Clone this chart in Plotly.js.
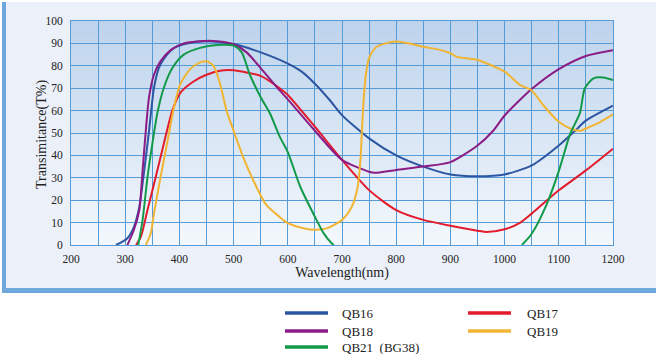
<!DOCTYPE html>
<html>
<head>
<meta charset="utf-8">
<script src="https://cdn.plot.ly/plotly-3.0.1.min.js"></script>
<style>
  html, body { margin: 0; padding: 0; background: #ffffff; }
  #wrap { position: relative; width: 660px; height: 354px; }
  #frame { position: absolute; left: 2px; top: 2px; width: 654px; height: 291px; box-sizing: border-box;
           background: #ebf0f9; border-left: 4px solid #6fa8dc; border-bottom: 5px solid #6fa8dc; }
  #chart { position: absolute; left: 0; top: 0; width: 660px; height: 354px; }
</style>
</head>
<body>
<div id="wrap"><div id="frame"></div><div id="chart"></div></div>
<script>
// ---- data ----
const qb16_x = [283, 295, 304, 316, 326, 335, 344, 353, 362, 371, 390, 414, 450, 500, 550, 600, 625, 650, 678, 700, 750, 800, 850, 900, 950, 1000, 1050, 1100, 1130, 1150, 1200];
const qb16_y = [0, 1.5, 3, 8, 17, 33, 51, 70, 79, 83, 88, 90, 91, 89.7, 86, 81, 77.5, 72, 64.5, 58, 47.6, 40, 35, 31.5, 30.7, 31.5, 35.5, 44.4, 51, 55.5, 62.2];

const qb17_x = [320, 329, 341, 356, 371, 387, 402, 426, 450, 475, 500, 524, 550, 585, 600, 650, 700, 750, 800, 850, 900, 950, 967, 1000, 1029, 1050, 1100, 1150, 1200];
const qb17_y = [0, 3.7, 15.5, 30, 45, 60, 68, 73, 76, 77.8, 78, 77, 75.5, 70, 67, 52.8, 38, 24.5, 15.6, 11.2, 8.6, 6.4, 5.8, 7, 10, 14, 24.4, 33.3, 43];

const qb18_x = [304, 316, 326, 332, 338, 344, 353, 365, 384, 408, 438, 469, 500, 524, 550, 585, 600, 650, 700, 750, 760, 800, 850, 900, 950, 979, 1000, 1050, 1100, 1150, 1200];
const qb18_y = [0, 6.7, 15.5, 33, 51, 66, 76, 82, 87, 90, 91, 91, 89.6, 86, 79, 69, 65, 51, 38, 32.7, 32.2, 33.5, 35, 37, 44.4, 51, 57.8, 69.6, 78.5, 84.4, 87];

const qb19_x = [338, 347, 353, 365, 377, 390, 402, 420, 438, 450, 463, 475, 487, 500, 518, 536, 560, 585, 600, 629, 650, 672, 700, 718, 729, 734, 737, 740, 744, 750, 764, 800, 850, 882, 900, 912, 950, 1000, 1029, 1050, 1071, 1100, 1121, 1140, 1150, 1177, 1200];
const qb19_y = [0, 5, 14, 30, 45, 61.5, 72, 78.5, 81.5, 82, 80, 72, 60, 51, 39, 29, 18, 12.5, 9.8, 7.5, 6.8, 7.4, 11.2, 17, 26, 38, 52, 65, 76, 83.5, 88.5, 90.8, 88.5, 87, 85.6, 84, 82.6, 77.4, 71.4, 69, 62.5, 55, 52, 51, 52, 55, 58.3];

const qb21_x = [324, 332, 341, 350, 359, 371, 387, 408, 438, 469, 500, 515, 530, 550, 567, 585, 600, 623, 650, 666, 680, 685, null, 1032, 1050, 1077, 1100, 1121, 1139, 1148, 1164, 1182, 1200];
const qb21_y = [0, 11, 30, 45, 58.5, 70, 79, 85, 88, 89.3, 89, 86, 76, 66, 58.8, 48.4, 41.5, 26, 12.6, 5.3, 1, 0, null, 0, 5, 17.8, 33, 49.6, 59, 70, 74.4, 74.8, 73.6];

const seriesNames = ["QB16", "QB17", "QB18", "QB19", "QB21\u2002(BG38)"];
const seriesColors = ["#2c55a2", "#e21c2c", "#8b1c86", "#f2b433", "#129a48"];

const xTickVals = [200, 300, 400, 500, 600, 700, 800, 900, 1000, 1100, 1200];
const yTickVals = [0, 10, 20, 30, 40, 50, 60, 70, 80, 90, 100];

const xs = [qb16_x, qb17_x, qb18_x, qb19_x, qb21_x];
const ys = [qb16_y, qb17_y, qb18_y, qb19_y, qb21_y];

const traces = xs.map((x, i) => ({
  type: "scatter", mode: "lines", x: x, y: ys[i], name: seriesNames[i],
  line: { color: seriesColors[i], width: 2, shape: "spline", smoothing: 0.7 },
  connectgaps: false, showlegend: false, hoverinfo: "skip"
}));

// gradient plot background
const grad = '<svg xmlns="http://www.w3.org/2000/svg" width="100" height="100" preserveAspectRatio="none">' +
  '<defs><linearGradient id="g" x1="0" y1="0" x2="0" y2="1">' +
  '<stop offset="0" stop-color="#bdd3ec"/><stop offset="1" stop-color="#f4f8fd"/></linearGradient></defs>' +
  '<rect width="100" height="100" fill="url(#g)"/></svg>';

const W = 542, H = 224, L = 71, T = 21;
const px = v => (v - L) / W;
const py = v => (T + H - v) / H;

const fontFam = "'Liberation Serif', 'Times New Roman', Times, serif";

// legend (drawn manually in two columns)
const legendPos = [
  { lx0: 285, lx1: 328, tx: 340, y: 313 },
  { lx0: 468, lx1: 511, tx: 525, y: 313 },
  { lx0: 285, lx1: 328, tx: 340, y: 331 },
  { lx0: 468, lx1: 511, tx: 525, y: 331 },
  { lx0: 285, lx1: 328, tx: 340, y: 347 }
];
const shapes = [];
const annotations = [];
legendPos.forEach((p, i) => {
  shapes.push({ type: "line", xref: "paper", yref: "paper", x0: px(p.lx0), x1: px(p.lx1), y0: py(p.y), y1: py(p.y),
                line: { color: seriesColors[i], width: 3.5 } });
  annotations.push({ xref: "paper", yref: "paper", x: px(p.tx), y: py(p.y), xanchor: "left", yanchor: "middle",
                     text: seriesNames[i], showarrow: false,
                     font: { family: fontFam, size: 13, color: "#222" } });
});
// y axis title placed like the reference
annotations.push({ xref: "paper", yref: "paper", x: px(42), y: py(135), xanchor: "center", yanchor: "middle",
                   textangle: -90, text: "Transimitance(T%)", showarrow: false,
                   font: { family: fontFam, size: 14, color: "#222" } });

const gridColor = "#559bd8";

const layout = {
  width: 660, height: 354,
  margin: { l: L, r: 660 - L - W, t: T, b: 354 - T - H, pad: 0 },
  paper_bgcolor: "rgba(0,0,0,0)",
  plot_bgcolor: "rgba(0,0,0,0)",
  font: { family: fontFam, color: "#222", size: 11 },
  images: [{ source: "data:image/svg+xml;charset=utf-8," + encodeURIComponent(grad),
             xref: "paper", yref: "paper", x: 0, y: 1, sizex: 1, sizey: 1,
             xanchor: "left", yanchor: "top", sizing: "stretch", layer: "below" }],
  xaxis: {
    range: [200, 1200], tickvals: xTickVals, ticktext: xTickVals.map(String),
    showgrid: true, gridcolor: gridColor, gridwidth: 1,
    minor: { dtick: 50, showgrid: true, gridcolor: gridColor, gridwidth: 1 },
    showline: true, linecolor: gridColor, linewidth: 1, mirror: true,
    zeroline: false, ticks: "", ticklabelstandoff: 3,
    tickfont: { family: fontFam, size: 11.5, color: "#222" },
    title: { text: "Wavelength(nm)", font: { family: fontFam, size: 14, color: "#222" }, standoff: 3 },
    automargin: false
  },
  yaxis: {
    range: [0, 100], tickvals: yTickVals, ticktext: yTickVals.map(String),
    showgrid: true, gridcolor: gridColor, gridwidth: 1,
    showline: true, linecolor: gridColor, linewidth: 1, mirror: true,
    zeroline: false, ticks: "", ticklabelstandoff: 5,
    tickfont: { family: fontFam, size: 11.5, color: "#222" },
    automargin: false
  },
  shapes: shapes,
  annotations: annotations,
  showlegend: false
};

Plotly.newPlot("chart", traces, layout, { displayModeBar: false, staticPlot: true });
</script>
</body>
</html>
